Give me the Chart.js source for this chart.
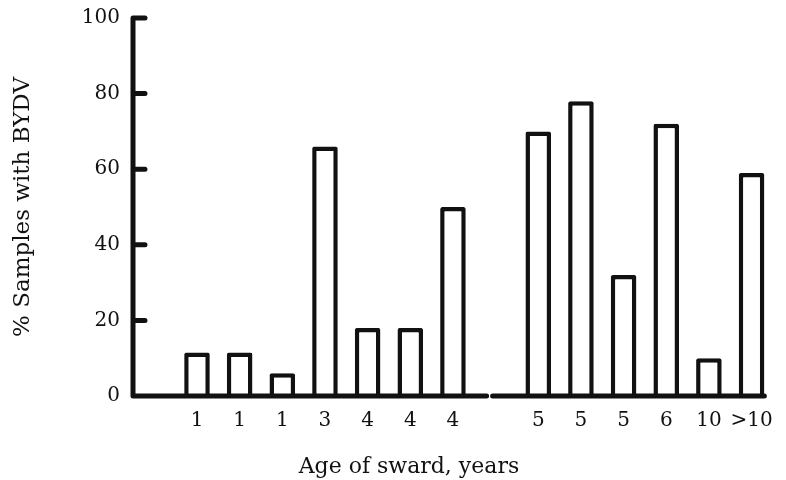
<!DOCTYPE html>
<html>
<head>
<meta charset="utf-8">
<script src="https://cdn.jsdelivr.net/npm/chart.js@4"></script>
<style>
  html, body { margin: 0; padding: 0; background: #fff; }
  #wrap { width: 786px; height: 480px; }
</style>
</head>
<body>
<div id="wrap"><canvas id="barChart"></canvas></div>
<script>
// Data ('' entries are the empty slot and the axis break)
const categories = ['', '1', '1', '1', '3', '4', '4', '4', '', '5', '5', '5', '6', '10', '>10'];
const samplesWithBYDV = [null, 11.5, 11.5, 6, 66, 18, 18, 50, null, 70, 78, 32, 72, 10, 59];
const yTicks = [0, 20, 40, 60, 80, 100];
const xTitle = 'Age of sward, years';

const ink = '#111';
Chart.defaults.font.family = '"DejaVu Serif", "Liberation Serif", serif';
Chart.defaults.font.size = 20;
Chart.defaults.color = ink;

// Draws the y axis with inward ticks, the broken x axis and the x title
const axisLines = {
    id: 'axisLines',
    afterDatasetsDraw(chart) {
        const { ctx, chartArea, scales: { x, y } } = chart;
        const base = y.getPixelForValue(0);
        ctx.save();
        ctx.strokeStyle = ink;
        ctx.lineWidth = 5;
        ctx.lineCap = 'round';
        ctx.beginPath();
        ctx.moveTo(chartArea.left, y.getPixelForValue(yTicks[yTicks.length - 1]));
        ctx.lineTo(chartArea.left, base);
        yTicks.forEach(v => {
            const py = y.getPixelForValue(v);
            ctx.moveTo(chartArea.left, py);
            ctx.lineTo(chartArea.left + 12, py);
        });
        const meta = chart.getDatasetMeta(0);
        const last = meta.data[meta.data.length - 1];
        const breakX = x.getPixelForValue(categories.indexOf('', 1)) - 6;
        ctx.moveTo(chartArea.left, base);
        ctx.lineTo(breakX - 3, base);
        ctx.moveTo(breakX + 3, base);
        ctx.lineTo(last.x + last.width / 2, base);
        ctx.stroke();

        // x title sits left of the plot centre in the original
        ctx.fillStyle = ink;
        ctx.font = '22px "DejaVu Serif", "Liberation Serif", serif';
        ctx.textAlign = 'center';
        ctx.textBaseline = 'middle';
        ctx.fillText(xTitle, (chartArea.left + chartArea.right) / 2 - 44, x.bottom - 13);
        ctx.restore();
    }
};

const ctx = document.getElementById('barChart').getContext('2d');
new Chart(ctx, {
    type: 'bar',
    data: {
        labels: categories,
        datasets: [{
            data: samplesWithBYDV,
            backgroundColor: '#fff',
            borderColor: ink,
            borderWidth: 4.5,
            borderRadius: 2,
            borderSkipped: 'start',
            barPercentage: 0.6,
            categoryPercentage: 1
        }]
    },
    options: {
        responsive: true,
        maintainAspectRatio: false,
        animation: false,
        layout: { padding: { top: 18, right: 10, left: 0, bottom: 0 } },
        plugins: {
            legend: { display: false },
            tooltip: { enabled: false }
        },
        scales: {
            x: {
                grid: { display: false, drawTicks: false },
                border: { display: false },
                ticks: { padding: 13, maxRotation: 0, autoSkip: false },
                afterFit(scale) { scale.height = 84; }
            },
            y: {
                min: 0,
                max: 100,
                grid: { display: false, drawTicks: false },
                border: { display: false },
                ticks: { stepSize: 20, padding: 13 },
                title: {
                    display: true,
                    text: '% Samples with BYDV',
                    font: { size: 23 },
                    padding: { top: 9, bottom: 0 }
                },
                afterFit(scale) {
                    scale.width = 133;
                    scale.paddingTop = 0;
                }
            }
        }
    },
    plugins: [axisLines]
});
</script>
</body>
</html>
